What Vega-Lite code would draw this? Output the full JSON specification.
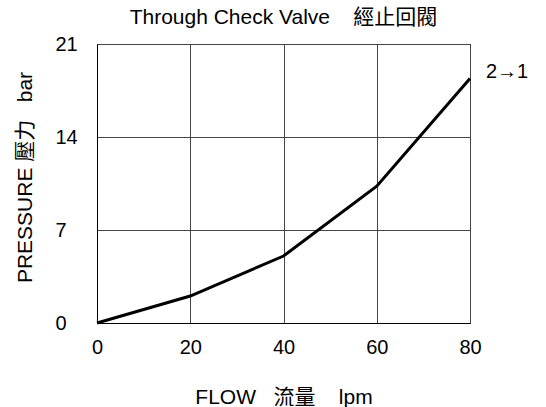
{
  "$schema": "https://vega.github.io/schema/vega-lite/v6.json",
  "width": 373,
  "height": 279,
  "autosize": {"type": "none"},
  "padding": {"left": 97, "top": 44, "right": 76, "bottom": 84},
  "background": "white",
  "config": {
    "font": "Liberation Sans, Noto Sans CJK TC",
    "view": {"stroke": "black", "strokeWidth": 1}
  },
  "title": {
    "text": "Through Check Valve\u00a0\u00a0\u00a0\u00a0經止回閥",
    "fontSize": 21,
    "fontWeight": "normal",
    "color": "black",
    "anchor": "middle",
    "offset": 6
  },
  "data": {
    "values": [
      {"flow": 0, "pressure": 0},
      {"flow": 20, "pressure": 2.03},
      {"flow": 40, "pressure": 5.04},
      {"flow": 60, "pressure": 10.3},
      {"flow": 80, "pressure": 18.4}
    ]
  },
  "layer": [
    {
      "mark": {"type": "line", "color": "black", "strokeWidth": 3, "clip": false},
      "encoding": {
        "x": {
          "field": "flow", "type": "quantitative",
          "scale": {"domain": [0, 80], "nice": false},
          "axis": {
            "values": [0, 20, 40, 60, 80],
            "labelFlush": false,
            "title": "FLOW\u00a0\u00a0\u00a0流量\u00a0\u00a0\u00a0\u00a0lpm",
            "titleFontSize": 21, "titleFontWeight": "normal", "titleColor": "black",
            "titlePadding": 29,
            "labelFontSize": 20, "labelColor": "black", "labelPadding": 14,
            "ticks": false, "domainColor": "black",
            "grid": true, "gridColor": "#444", "gridOpacity": 1, "gridWidth": 1
          }
        },
        "y": {
          "field": "pressure", "type": "quantitative",
          "scale": {"domain": [0, 21], "nice": false},
          "axis": {
            "values": [0, 7, 14, 21],
            "labelFlush": false,
            "labelAlign": "left",
            "title": "PRESSURE\u00a0壓力\u00a0\u00a0\u00a0bar",
            "titleFontSize": 21, "titleFontWeight": "normal", "titleColor": "black",
            "titlePadding": 20,
            "titleY": 133,
            "labelFontSize": 20, "labelColor": "black", "labelPadding": 42,
            "ticks": false, "domainColor": "black",
            "grid": true, "gridColor": "#444", "gridOpacity": 1, "gridWidth": 1
          }
        }
      }
    },
    {
      "data": {"values": [{"flow": 80, "pressure": 18.4, "label": "2→1"}]},
      "mark": {"type": "text", "align": "left", "baseline": "middle", "dx": 16, "dy": -7, "fontSize": 20, "color": "black", "clip": false},
      "encoding": {
        "x": {"field": "flow", "type": "quantitative"},
        "y": {"field": "pressure", "type": "quantitative"},
        "text": {"field": "label"}
      }
    }
  ]
}
